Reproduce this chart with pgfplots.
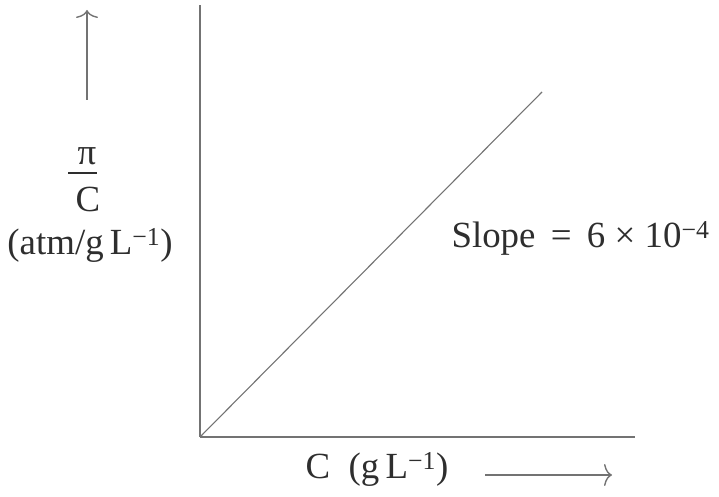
\documentclass[border=0pt]{standalone}
\usepackage{fontspec}
\setmainfont{Liberation Serif}
\usepackage{pgfplots}
\usetikzlibrary{arrows.meta}
\pgfplotsset{compat=1.18}
\definecolor{ln}{gray}{0.45}
\definecolor{tx}{gray}{0.18}
\begin{document}
\begin{tikzpicture}[x=1bp,y=1bp]
\useasboundingbox (0,0) rectangle (719,497);
\begin{axis}[at={(200bp,60bp)}, anchor=south west, scale only axis,
  width=435bp, height=432bp, xmin=0, xmax=435, ymin=0, ymax=432,
  axis x line=bottom, axis y line=left, axis line style={-, ln, line width=1.6pt},
  ticks=none, clip=false]
\addplot[ln, line width=1.1pt] coordinates {(0,0) (342,345)};
\end{axis}
\begin{scope}[font=\fontsize{37}{42}\selectfont, text=tx]
\draw[-{To[length=8bp,width=22bp]}, ln, line width=1.4pt] (87,397) -- (87,487);
\node at (87,341) {π};
\draw[tx, line width=1.3pt] (68,324) -- (97,324);
\node at (88,298) {C};
\node at (90,252) {(atm/g\,L\textsuperscript{−1})};
\node[anchor=west] at (448,259) {Slope\, =\, 6 × 10\textsuperscript{−4}};
\node at (377,28) {C\ \ (g\,L\textsuperscript{−1})};
\draw[-{To[length=8bp,width=22bp]}, ln, line width=1.4pt] (485,22) -- (612,22);
\end{scope}
\end{tikzpicture}
\end{document}
